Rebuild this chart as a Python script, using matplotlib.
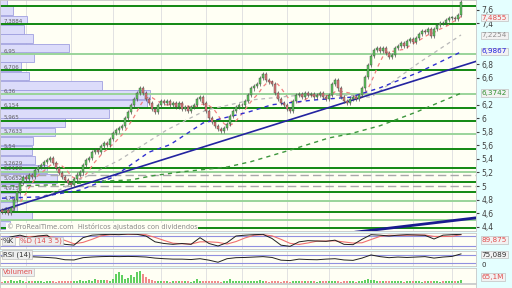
import matplotlib
matplotlib.use("Agg")
import matplotlib.pyplot as plt
from matplotlib.ticker import FuncFormatter
import numpy as np
import pandas as pd

# daily closes (oldest first)
closes = [4.62, 4.64, 4.60, 4.67, 4.79, 4.91, 5.04, 5.13, 5.11, 5.16,
          5.14, 5.23, 5.28, 5.31, 5.35, 5.38, 5.42, 5.34, 5.26, 5.19,
          5.13, 5.09, 5.04, 5.01, 5.11, 5.17, 5.20, 5.31, 5.38, 5.41,
          5.50, 5.53, 5.50, 5.59, 5.63, 5.60, 5.70, 5.78, 5.82, 5.86,
          5.89, 6.00, 6.09, 6.19, 6.29, 6.38, 6.44, 6.38, 6.29, 6.22,
          6.14, 6.09, 6.20, 6.26, 6.22, 6.25, 6.20, 6.23, 6.17, 6.22,
          6.14, 6.17, 6.11, 6.16, 6.20, 6.28, 6.32, 6.23, 6.11, 6.01,
          5.94, 5.88, 5.84, 5.81, 5.86, 5.91, 6.04, 6.11, 6.17, 6.19,
          6.20, 6.26, 6.35, 6.44, 6.47, 6.50, 6.59, 6.65, 6.56, 6.53,
          6.50, 6.38, 6.29, 6.23, 6.20, 6.14, 6.11, 6.26, 6.34, 6.36,
          6.32, 6.38, 6.34, 6.36, 6.31, 6.34, 6.38, 6.32, 6.29, 6.35,
          6.50, 6.56, 6.44, 6.32, 6.26, 6.23, 6.29, 6.31, 6.28, 6.35,
          6.44, 6.61, 6.79, 6.92, 7.01, 7.04, 7.00, 7.04, 6.97, 6.91,
          6.94, 7.04, 7.07, 7.11, 7.07, 7.14, 7.17, 7.12, 7.19, 7.25,
          7.29, 7.28, 7.32, 7.22, 7.32, 7.38, 7.41, 7.40, 7.45, 7.48,
          7.48, 7.47, 7.53, 7.72]
first_open = 4.65

# volume in millions, one per candle
volumes = [6, 9, 7, 12, 10, 8, 11, 7, 6, 8, 9, 7, 10, 8, 6, 9, 7, 8, 6, 7,
           9, 8, 7, 10, 8, 9, 11, 8, 10, 12, 9, 17, 14, 11, 13, 12, 10, 15, 36, 44,
           31, 15, 20, 31, 24, 44, 48, 36, 24, 16, 12, 9, 8, 10, 7, 9, 6, 8, 7, 9,
           8, 10, 7, 6, 8, 16, 9, 7, 8, 10, 9, 7, 8, 6, 9, 8, 16, 10, 8, 7,
           9, 8, 10, 7, 9, 8, 11, 7, 8, 6, 9, 7, 8, 6, 7, 9, 6, 8, 7, 9,
           10, 8, 7, 9, 8, 6, 7, 8, 9, 7, 10, 8, 7, 6, 8, 9, 7, 8, 6, 7,
           9, 12, 16, 14, 11, 9, 8, 7, 9, 8, 7, 9, 8, 7, 6, 8, 7, 9, 8, 7,
           6, 8, 7, 9, 8, 7, 6, 8, 9, 7, 8, 7, 9, 11]

# moving averages: (candle index, value)
ma_idx_gray = [0, 19, 39, 55, 68, 83, 99, 116, 123, 139, 153]
ma_gray = [4.62, 4.94, 5.38, 5.83, 6.12, 6.27, 6.34, 6.34, 6.31, 6.82, 7.23]
ma_idx_blue = [0, 13, 26, 37, 49, 56, 67, 82, 90, 104, 116, 126, 139, 153]
ma_blue = [4.82, 4.84, 4.94, 5.13, 5.50, 5.61, 5.93, 6.09, 6.20, 6.27, 6.31, 6.45, 6.68, 6.98]
ma_idx_green = [0, 20, 33, 43, 50, 60, 75, 83, 96, 109, 116, 126, 138, 153]
ma_green = [5.00, 5.02, 5.07, 5.09, 5.15, 5.21, 5.28, 5.36, 5.53, 5.71, 5.77, 5.89, 6.09, 6.37]

# trend lines (candle index, price)
trend1_x = [-1, 158]
trend1_y = [4.63, 6.84]
trend2_x = [118, 158]
trend2_y = [4.32, 4.53]

# volume-at-price profile: 25 bins from 4.36 to 7.80
profile_lo, profile_hi = 4.36, 7.80
profile_vol = [10, 32, 17, 20, 20, 57, 47, 35, 32, 33, 55, 65, 109,
               147, 150, 102, 29, 21, 34, 69, 33, 24, 27, 13, 7]

# support / resistance levels from the profile
levels_dark = [7.66, 7.3884, 6.706, 6.154, 5.965, 5.54, 5.2629, 5.0652, 4.9151, 4.61, 4.38]
levels_light = [6.95, 6.36, 5.7633, 5.212, 4.78, 4.503]
levels_dash = [5.17, 5.00]
level_labels = [(7.3884, "7,3884"), (6.95, "6,95"), (6.706, "6,706"), (6.36, "6,36"),
                (6.154, "6,154"), (5.965, "5,965"), (5.7633, "5,7633"), (5.54, "5,54"),
                (5.2629, "5,2629"), (5.212, "5,2128"), (5.0652, "5,0652"),
                (4.9151, "4,9151"), (4.78, "4,78"), (4.61, "4,61")]

# right axis ticks (the ones hidden behind value boxes left out)
price_ticks = [7.6, 7.4, 6.8, 6.6, 6.2, 6.0, 5.8, 5.6, 5.4, 5.2, 5.0, 4.8, 4.6, 4.4]

# oscillators sampled every 3 candles
osc_idx = list(range(0, 154, 3))
stoch_k = [60, 75, 85, 70, 80, 85, 45, 30, 25, 70, 85, 88, 90, 88, 92, 90, 80, 45,
           35, 30, 35, 30, 70, 35, 20, 40, 80, 85, 88, 90, 65, 25, 18, 45, 52, 50,
           48, 55, 30, 28, 60, 88, 85, 80, 85, 88, 86, 84, 62, 85, 88, 90]
rsi = [62, 64, 66, 62, 60, 58, 55, 47, 46, 57, 60, 62, 63, 62, 63, 62, 60, 55,
       52, 50, 50, 48, 52, 45, 35, 52, 57, 58, 60, 62, 58, 45, 43, 50, 48, 47,
       50, 52, 46, 44, 55, 70, 62, 57, 60, 58, 60, 62, 55, 60, 63, 75]

# month boundaries (candle index) for the vertical grid
month_idx = [8, 23, 37, 53, 68, 80, 95, 109, 123, 137, 150]

BG = "#fffff4"
UP = "#5cc85c"
DOWN = "#e07878"

W, H = 512, 288
fig = plt.figure(figsize=(W / 100, H / 100), dpi=100, facecolor="#e4ffff")


def px_axes(top, bottom, right=476):
    return fig.add_axes([0, 1 - bottom / H, right / W, (bottom - top) / H])


ax = px_axes(0, 231)
ax_st = px_axes(233, 249)
ax_rsi = px_axes(251, 266)
ax_vol = px_axes(268, 283)
ax_rest = px_axes(284, 288)

x = np.arange(len(closes))
c = np.array(closes)
o = np.concatenate([[first_open], c[:-1]])
up = c >= o
xlim = (-0.67, 158)

for a in (ax, ax_st, ax_rsi, ax_vol, ax_rest):
    a.set_facecolor(BG)
    a.set_xlim(*xlim)
    a.set_xticks([])
    for s in a.spines.values():
        s.set_color("#c8c8c8")
        s.set_linewidth(0.6)
    for m in month_idx:
        a.axvline(m, color="#e2e2e2", lw=0.7, zorder=0)
ax_rest.set_yticks([])

# ---- price panel ----
ymin, ymax = 4.336, 7.746
ax.set_ylim(ymin, ymax)

# volume profile bars
bin_h = (profile_hi - profile_lo) / len(profile_vol)
for k, v in enumerate(profile_vol):
    ax.barh(profile_lo + k * bin_h, v / 3.0, height=bin_h * 0.92, left=xlim[0],
            align="edge", color="#dcdcfa", edgecolor="#a0a0e0", lw=0.6, zorder=1)

for lv in levels_dark:
    ax.axhline(lv, color="#118811", lw=1.4, zorder=2)
for lv in levels_light:
    ax.axhline(lv, color="#9ad49a", lw=1.4, zorder=2)
for lv in levels_dash:
    ax.axhline(lv, color="#a8a8a8", lw=1.0, ls=(0, (6, 3)), zorder=2)

for lv, txt in level_labels:
    # the two labels around 5,2 sit very close, lift the upper one a bit
    dy = 0.04 if txt == "5,2629" else 0.008
    ax.text(0.5, lv + dy, txt, fontsize=4.0, color="#606060", va="bottom", zorder=3)

# moving averages
red_ma = pd.Series(c).rolling(7, min_periods=1).mean()
ax.plot(x, red_ma, color="#f08080", lw=0.9, ls=(0, (3, 3)), zorder=3)
ax.plot(ma_idx_gray, ma_gray, color="#b8b8b8", lw=0.9, ls=(0, (3, 3)), zorder=3)
ax.plot(ma_idx_blue, ma_blue, color="#3030d0", lw=1.0, ls=(0, (3, 3)), zorder=3)
ax.plot(ma_idx_green, ma_green, color="#3c963c", lw=1.0, ls=(0, (3, 3)), zorder=3)
ax.plot(trend1_x, trend1_y, color="#2424a0", lw=1.2, zorder=3)
ax.plot(trend2_x, trend2_y, color="#1a1a90", lw=2.0, zorder=3)

# candles
hi = np.maximum(o, c) + 0.03
lo = np.minimum(o, c) - 0.03
ax.vlines(x, lo, hi, color="#505050", lw=0.5, zorder=4)
body = np.maximum(np.abs(c - o), 0.01)
ax.bar(x, body, bottom=np.minimum(o, c), width=0.7,
       color=np.where(up, UP, DOWN), edgecolor="#404040", lw=0.3, zorder=5)

ax.text(1.5, 4.345, "\u00a9 ProRealTime.com  Históricos ajustados con dividendos",
        fontsize=4.8, color="#888888", va="bottom", zorder=6,
        bbox=dict(facecolor=BG, edgecolor="none", pad=0.3))

# right axis
ax.yaxis.tick_right()
ax.set_yticks(price_ticks)
ax.yaxis.set_major_formatter(FuncFormatter(lambda v, p: f"{v:.1f}".rstrip("0").rstrip(".").replace(".", ",")))
ax.tick_params(axis="y", labelsize=5.5, length=2, pad=2, colors="#404040")

tr = ax.get_yaxis_transform()
boxes = [(7.4855, "7,4855", "#e05050"), (7.2254, "7,2254", "#909090"),
         (6.9867, "6,9867", "#2020e0"), (6.3742, "6,3742", "#309030")]
for val, txt, col in boxes:
    ax.text(1.012, val, txt, transform=tr, fontsize=5.2, color=col, va="center",
            ha="left", zorder=10, clip_on=False,
            bbox=dict(facecolor="#f2f2f2", edgecolor="#c0c0c0", lw=0.5, pad=0.5))

# ---- stochastic ----
k = pd.Series(stoch_k, dtype=float)
d = k.rolling(3, min_periods=1).mean()
ax_st.set_ylim(2, 98)
ax_st.axhline(80, color="#9090e0", lw=0.8)
ax_st.axhline(20, color="#9090e0", lw=0.8)
ax_st.plot(osc_idx, d, color="#f07070", lw=0.8)
ax_st.plot(osc_idx, k, color="#202020", lw=0.7)
ax_st.set_yticks([])
ax_st.text(0.3, 50, "%K", fontsize=5, color="#303030", va="center",
           bbox=dict(facecolor="#eeeeee", edgecolor="#c0c0c0", lw=0.5, pad=0.7))
ax_st.text(6, 50, "%D (14 3 5)", fontsize=5, color="#e05050", va="center",
           bbox=dict(facecolor="#eeeeee", edgecolor="#c0c0c0", lw=0.5, pad=0.7))
ax_st.text(1.012, 55, "89,875", transform=ax_st.get_yaxis_transform(), fontsize=5.2,
           color="#e05050", va="center", clip_on=False,
           bbox=dict(facecolor="#f2f2f2", edgecolor="#c0c0c0", lw=0.5, pad=0.6))

# ---- RSI ----
ax_rsi.set_ylim(17, 89)
ax_rsi.axhline(70, color="#9090e0", lw=0.8)
ax_rsi.axhline(30, color="#9090e0", lw=0.8)
ax_rsi.plot(osc_idx, rsi, color="#202020", lw=0.7)
ax_rsi.set_yticks([])
ax_rsi.text(0.3, 72, "RSI (14)", fontsize=5, color="#303030", va="center",
            bbox=dict(facecolor="#eeeeee", edgecolor="#c0c0c0", lw=0.5, pad=0.7))
ax_rsi.text(1.012, 72, "75,089", transform=ax_rsi.get_yaxis_transform(), fontsize=5.2,
            color="#303030", va="center", clip_on=False,
            bbox=dict(facecolor="#f2f2f2", edgecolor="#c0c0c0", lw=0.5, pad=0.6))
ax_rsi.text(1.012, 22, "0", transform=ax_rsi.get_yaxis_transform(), fontsize=5,
            color="#303030", va="center", clip_on=False)

# ---- volume ----
ax_vol.set_ylim(0, 60)
ax_vol.bar(x, volumes, width=0.6, color=np.where(up, "#60d060", "#f08a8a"), lw=0)
ax_vol.set_yticks([])
ax_vol.text(0.3, 45, "Volumen", fontsize=5, color="#e05050", va="center",
            bbox=dict(facecolor="#eeeeee", edgecolor="#c0c0c0", lw=0.5, pad=0.7))
ax_vol.text(1.012, 25, "65,1M", transform=ax_vol.get_yaxis_transform(), fontsize=5.2,
            color="#e05050", va="center", clip_on=False,
            bbox=dict(facecolor="#f2f2f2", edgecolor="#c0c0c0", lw=0.5, pad=0.6))

fig.savefig("out.png", dpi=100, facecolor=fig.get_facecolor())
